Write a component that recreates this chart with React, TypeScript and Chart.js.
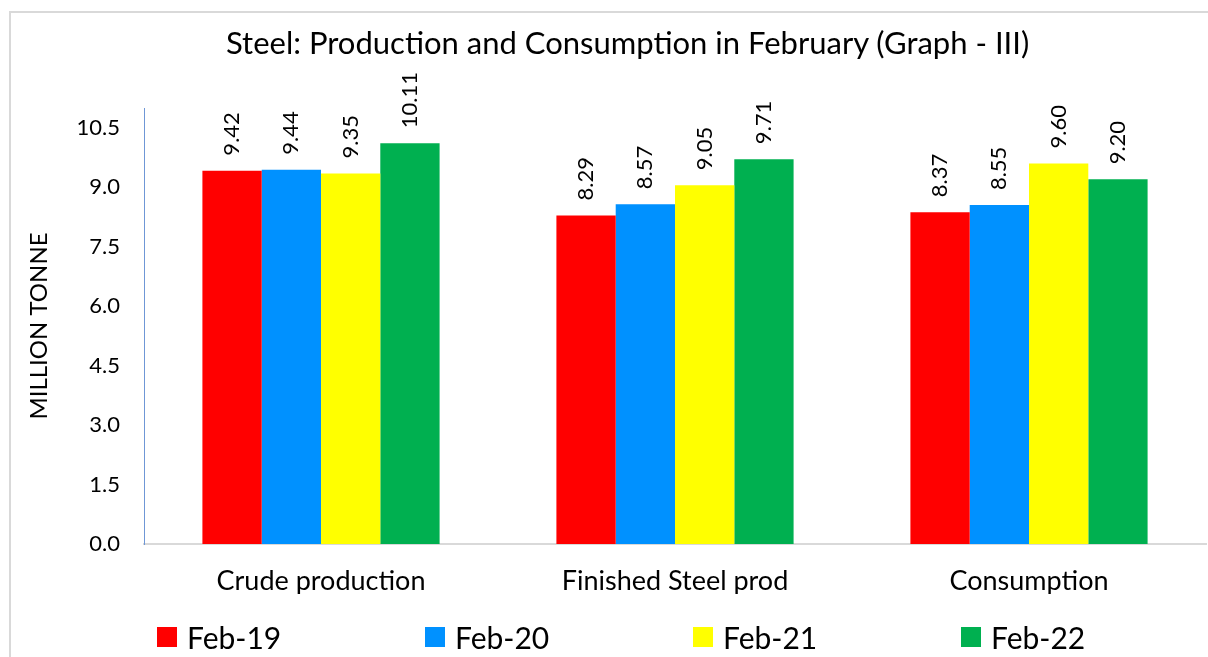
import React, { useEffect, useRef } from "react";
import { Chart, registerables } from "chart.js";

Chart.register(...registerables);

const titleText = "Steel: Production and Consumption in February (Graph - III)";
const categories = ["Crude production", "Finished Steel prod", "Consumption"];
const seriesNames = ["Feb-19", "Feb-20", "Feb-21", "Feb-22"];
const feb19 = [9.42, 8.29, 8.37];
const feb20 = [9.44, 8.57, 8.55];
const feb21 = [9.35, 9.05, 9.6];
const feb22 = [10.11, 9.71, 9.2];
const seriesColors = ["#ff0000", "#0091ff", "#ffff00", "#00b050"];
const yTicks = [0, 1.5, 3, 4.5, 6, 7.5, 9, 10.5];

const FONT = "Lato, 'Open Sans', sans-serif";

const dataLabelPlugin = {
  id: "dataLabels",
  afterDatasetsDraw(chart: any) {
    const ctx = chart.ctx;
    ctx.save();
    ctx.font = `22px ${FONT}`;
    ctx.fillStyle = "#000";
    ctx.textAlign = "left";
    ctx.textBaseline = "middle";
    chart.data.datasets.forEach((ds: any, i: number) => {
      const meta = chart.getDatasetMeta(i);
      meta.data.forEach((bar: any, j: number) => {
        const v = ds.data[j];
        ctx.save();
        ctx.translate(bar.x, bar.y - 15);
        ctx.rotate(-Math.PI / 2);
        ctx.fillText(v.toFixed(2), 0, 0);
        ctx.restore();
      });
    });
    ctx.restore();
  },
};

export default function App() {
  const ref = useRef<HTMLCanvasElement | null>(null);

  useEffect(() => {
    document.body.style.margin = "0";
    const allData = [feb19, feb20, feb21, feb22];
    const chart = new Chart(ref.current as HTMLCanvasElement, {
      type: "bar",
      data: {
        labels: categories,
        datasets: seriesNames.map((name, i) => ({
          label: name,
          data: allData[i],
          backgroundColor: seriesColors[i],
          borderWidth: 0,
          categoryPercentage: 0.67,
          barPercentage: 1.0,
        })),
      },
      plugins: [dataLabelPlugin],
      options: {
        animation: false,
        responsive: true,
        maintainAspectRatio: false,
        layout: { padding: { top: 108, right: 2, bottom: 63, left: 0 } },
        plugins: {
          legend: { display: false },
          tooltip: { enabled: false },
          title: { display: false },
        },
        scales: {
          x: {
            grid: { display: false, drawTicks: false },
            border: { display: true, color: "#d9d9d9", width: 2 },
            ticks: {
              color: "#000",
              padding: 21,
              font: { family: FONT, size: 27 },
            },
            afterFit(scale: any) {
              scale.height = 50;
            },
          },
          y: {
            min: 0,
            max: 11,
            grid: { display: false, drawTicks: false },
            border: { display: true, color: "#6f97d6", width: 1 },
            ticks: {
              stepSize: 1.5,
              color: "#000",
              padding: 24,
              font: { family: FONT, size: 22 },
              callback: (v: any) => Number(v).toFixed(1),
            },
            afterBuildTicks(scale: any) {
              scale.ticks = yTicks.map((v) => ({ value: v }));
            },
            title: {
              display: true,
              text: "MILLION TONNE",
              color: "#000",
              font: { family: FONT, size: 24 },
              padding: { top: 25, bottom: 0 },
            },
            afterFit(scale: any) {
              scale.width = 144;
            },
          },
        },
      },
    });
    return () => chart.destroy();
  }, []);

  return (
    <div style={{ position: "relative", width: 1208, height: 657, overflow: "hidden", background: "#fff" }}>
      <canvas ref={ref} />
      <div
        style={{
          position: "absolute",
          left: 9,
          top: 11,
          width: 1400,
          height: 900,
          borderLeft: "2px solid #d9d9d9",
          borderTop: "2px solid #d9d9d9",
          pointerEvents: "none",
        }}
      />
      <div
        style={{
          position: "absolute",
          left: 226,
          width: 800,
          top: 22,
          height: 40,
          lineHeight: "40px",
          textAlign: "center",
          whiteSpace: "nowrap",
          fontFamily: FONT,
          fontSize: 31,
          color: "#000",
        }}
      >
        {titleText}
      </div>
      <div style={{ position: "absolute", left: 157, top: 617, display: "flex", fontFamily: FONT }}>
        {seriesNames.map((name, i) => (
          <div key={name} style={{ width: 268, display: "flex", alignItems: "center", height: 40 }}>
            <span style={{ width: 20, height: 20, background: seriesColors[i], display: "inline-block", marginRight: 10 }} />
            <span style={{ fontSize: 30, color: "#000", lineHeight: "40px" }}>{name}</span>
          </div>
        ))}
      </div>
    </div>
  );
}
